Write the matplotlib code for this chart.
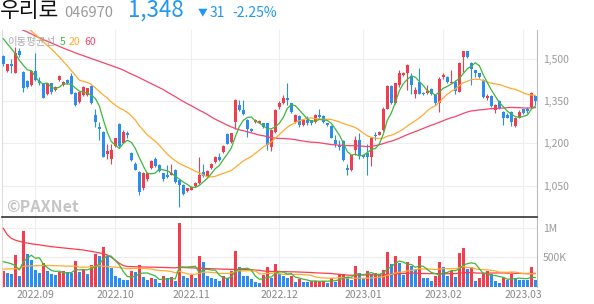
import numpy as np
import pandas as pd
import matplotlib
matplotlib.use('Agg')
import matplotlib.pyplot as plt

plt.rcParams['font.family'] = ['Noto Sans CJK KR', 'DejaVu Sans']

# daily candles, 2022-08-22 .. 2023-03-07 (won)
opens = [1508, 1456, 1482, 1449, 1527, 1453, 1421, 1406, 1456, 1421,
         1412, 1374, 1412, 1390, 1423, 1406, 1423, 1438, 1379, 1347,
         1370, 1370, 1402, 1300, 1258, 1241, 1161, 1146, 1190, 1268,
         1202, 1235, 1164, 1126, 1099, 1040, 1072, 1114, 1146, 1123,
         1093, 1089, 1089, 1105, 1069, 1052, 1032, 1036, 1048, 1058,
         1099, 1084, 1111, 1134, 1152, 1170, 1232, 1205, 1276, 1335,
         1317, 1282, 1252, 1276, 1272, 1270, 1270, 1187, 1241, 1329,
         1341, 1359, 1341, 1276, 1296, 1264, 1282, 1282, 1276, 1300,
         1296, 1270, 1261, 1213, 1193, 1209, 1113, 1105, 1176, 1213,
         1158, 1164, 1150, 1231, 1231, 1246, 1323, 1402, 1341, 1406,
         1441, 1447, 1438, 1374, 1418, 1379, 1379, 1392, 1370, 1343,
         1435, 1435, 1414, 1418, 1382, 1504, 1526, 1485, 1459, 1447,
         1423, 1359, 1367, 1317, 1349, 1311, 1300, 1311, 1262, 1291,
         1320, 1323, 1329, 1367]
highs = [1512, 1482, 1500, 1541, 1539, 1455, 1424, 1459, 1520, 1435,
         1414, 1414, 1414, 1403, 1441, 1421, 1429, 1447, 1382, 1385,
         1402, 1397, 1405, 1320, 1276, 1244, 1199, 1199, 1220, 1270,
         1246, 1244, 1170, 1134, 1101, 1099, 1099, 1140, 1150, 1127,
         1095, 1123, 1126, 1108, 1072, 1055, 1043, 1049, 1063, 1152,
         1126, 1104, 1131, 1155, 1164, 1193, 1237, 1238, 1355, 1353,
         1353, 1285, 1255, 1285, 1282, 1273, 1273, 1249, 1320, 1350,
         1370, 1412, 1344, 1303, 1299, 1287, 1296, 1284, 1303, 1320,
         1299, 1273, 1263, 1229, 1211, 1212, 1128, 1160, 1225, 1237,
         1160, 1199, 1223, 1241, 1244, 1329, 1405, 1405, 1414, 1461,
         1452, 1479, 1447, 1400, 1465, 1382, 1406, 1395, 1372, 1435,
         1449, 1438, 1461, 1423, 1488, 1528, 1528, 1488, 1461, 1450,
         1426, 1376, 1370, 1338, 1352, 1314, 1308, 1314, 1294, 1317,
         1323, 1329, 1382, 1370]
lows = [1473, 1452, 1449, 1447, 1506, 1382, 1394, 1402, 1421, 1406,
        1359, 1370, 1374, 1385, 1420, 1402, 1409, 1373, 1333, 1344,
        1367, 1367, 1338, 1258, 1211, 1150, 1146, 1126, 1187, 1187,
        1200, 1217, 1138, 1105, 1016, 1034, 1068, 1110, 1115, 1099,
        1067, 1078, 1087, 1061, 975, 1016, 1029, 1034, 1045, 1055,
        1081, 1081, 1108, 1131, 1136, 1167, 1196, 1202, 1249, 1313,
        1300, 1223, 1240, 1273, 1270, 1253, 1176, 1173, 1238, 1323,
        1338, 1335, 1308, 1273, 1258, 1261, 1264, 1264, 1273, 1291,
        1273, 1260, 1218, 1187, 1176, 1137, 1087, 1102, 1158, 1146,
        1148, 1087, 1119, 1211, 1228, 1244, 1320, 1340, 1338, 1400,
        1438, 1388, 1376, 1362, 1374, 1371, 1376, 1370, 1335, 1311,
        1429, 1412, 1412, 1376, 1380, 1453, 1501, 1406, 1435, 1432,
        1362, 1353, 1329, 1308, 1323, 1264, 1288, 1261, 1256, 1288,
        1303, 1308, 1326, 1335]
closes = [1482, 1480, 1475, 1520, 1512, 1394, 1400, 1456, 1423, 1412,
          1362, 1412, 1382, 1400, 1438, 1418, 1412, 1376, 1335, 1382,
          1400, 1394, 1341, 1276, 1252, 1152, 1173, 1176, 1217, 1190,
          1241, 1229, 1140, 1107, 1028, 1093, 1095, 1138, 1119, 1101,
          1075, 1081, 1095, 1064, 1052, 1020, 1040, 1046, 1060, 1087,
          1084, 1101, 1128, 1152, 1140, 1190, 1199, 1235, 1353, 1317,
          1303, 1249, 1244, 1282, 1279, 1256, 1193, 1246, 1317, 1343,
          1359, 1353, 1311, 1300, 1264, 1284, 1272, 1272, 1300, 1294,
          1276, 1263, 1220, 1199, 1187, 1140, 1107, 1158, 1213, 1158,
          1152, 1152, 1217, 1225, 1241, 1323, 1402, 1343, 1412, 1449,
          1449, 1476, 1406, 1390, 1376, 1374, 1386, 1374, 1343, 1429,
          1442, 1418, 1418, 1386, 1485, 1526, 1504, 1462, 1447, 1435,
          1364, 1367, 1331, 1335, 1326, 1288, 1291, 1276, 1291, 1311,
          1306, 1315, 1379, 1348]
# volume, thousand shares
volumes = [268, 229, 212, 538, 184, 944, 555, 454, 285, 229,
           398, 268, 212, 201, 257, 262, 246, 240, 437, 257,
           285, 218, 370, 550, 527, 674, 527, 313, 184, 156,
           116, 110, 268, 250, 370, 172, 116, 144, 127, 71,
           189, 144, 172, 105, 1073, 184, 144, 201, 144, 527,
           426, 184, 144, 140, 105, 184, 144, 268, 612, 330,
           184, 184, 127, 88, 71, 201, 330, 144, 386, 212,
           184, 156, 184, 88, 133, 88, 88, 95, 99, 103,
           106, 71, 144, 88, 212, 218, 172, 116, 358, 229,
           144, 268, 212, 229, 201, 285, 595, 386, 522, 398,
           201, 415, 358, 285, 522, 156, 156, 99, 189, 415,
           330, 184, 268, 172, 567, 651, 302, 341, 105, 156,
           229, 268, 212, 99, 71, 156, 116, 212, 144, 116,
           116, 110, 330, 116]

# moving-average values before enough sessions are on screen
ma5_lead = [1570, 1552, 1535, 1518]
ma20_lead = [1680, 1670, 1660, 1648, 1636, 1622, 1610, 1598, 1585, 1572,
             1559, 1546, 1534, 1520, 1505, 1490, 1474, 1457, 1440]
ma60_lead = [1630, 1624, 1618, 1612, 1606, 1600, 1594, 1587, 1580, 1573,
             1567, 1561, 1555, 1549, 1543, 1537, 1531, 1526, 1520, 1515,
             1510, 1505, 1500, 1495, 1490, 1485, 1480, 1475, 1470, 1465,
             1459, 1452, 1445, 1439, 1432, 1425, 1418, 1411, 1404, 1397,
             1390, 1381, 1373, 1365, 1356, 1348, 1340, 1333, 1325, 1317,
             1310, 1302, 1293, 1285, 1278, 1271, 1264, 1258, 1252]
vma5_lead = [426, 410, 390, 360]
vma20_lead = [300, 302, 305, 310, 312, 345, 352, 356, 358, 360,
              362, 362, 360, 358, 356, 354, 352, 350, 352]
vma60_lead = [990, 880, 820, 790, 770, 752, 740, 728, 718, 710,
              700, 690, 680, 673, 666, 659, 652, 645, 638, 630,
              623, 612, 600, 588, 575, 560, 540, 500, 450, 400,
              360, 345, 342, 340, 338, 336, 335, 334, 332, 330,
              328, 326, 324, 322, 330, 328, 325, 322, 318, 316,
              314, 311, 308, 305, 302, 300, 298, 296, 296]

month_idx = [8, 28, 47, 69, 90, 110, 130]
month_labels = ['2022.09', '2022.10', '2022.11', '2022.12', '2023.01', '2023.02', '2023.03']

RED = '#f23d4f'
BLUE = '#2b8df0'
GREEN = '#3cb83c'
ORANGE = '#ffab2e'
PINK = '#f5456b'
GRID = '#eeeeee'


def moving(values, n, lead):
    s = pd.Series(values, dtype=float).rolling(n).mean()
    s.iloc[:len(lead)] = lead
    return s.values


o = np.array(opens, float)
c = np.array(closes, float)
x = np.arange(len(c))
vol = np.array(volumes, float) * 1000

fig = plt.figure(figsize=(5.94, 3.04), dpi=100)
ax = fig.add_axes([2 / 594, 1 - 216.7 / 304, 535.3 / 594, 186.7 / 304])
axv = fig.add_axes([2 / 594, 1 - 286.9 / 304, 535.3 / 594, 70.2 / 304])

# candles
ccol = np.where(c >= o, RED, BLUE)
ax.vlines(x, lows, highs, colors=ccol, lw=0.8, zorder=2)
body = np.maximum(np.abs(c - o), 2.5)
ax.bar(x, body, bottom=np.minimum(o, c), width=0.72, color=ccol, zorder=3)

ax.plot(x, moving(closes, 60, ma60_lead), color=PINK, lw=0.9, zorder=4)
ax.plot(x, moving(closes, 20, ma20_lead), color=ORANGE, lw=0.9, zorder=4)
ax.plot(x, moving(closes, 5, ma5_lead), color=GREEN, lw=0.9, zorder=4)

ax.set_xlim(-0.33, 133.5)
ax.set_ylim(940, 1601)
ax.set_yticks([1050, 1200, 1350, 1500])
ax.set_yticklabels(['{:,}'.format(v) for v in [1050, 1200, 1350, 1500]])
ax.yaxis.tick_right()
ax.tick_params(axis='y', length=0, pad=4, labelsize=7.5, labelcolor='#999999')
ax.set_xticks(month_idx)
ax.tick_params(axis='x', length=0, labelbottom=False)
ax.grid(color=GRID, lw=0.8, zorder=0)
ax.spines['top'].set_visible(False)
ax.spines['bottom'].set_visible(False)
ax.spines['left'].set_color('#dddddd')
ax.spines['right'].set_color('#bbbbbb')

ax.text(0.009, 0.937, '이동평균선', transform=ax.transAxes, fontsize=7.5,
        color='#aaaaaa', va='center', zorder=6)
ax.text(0.108, 0.937, '5', transform=ax.transAxes, fontsize=7.5, color=GREEN, va='center', zorder=6)
ax.text(0.125, 0.937, '20', transform=ax.transAxes, fontsize=7.5, color=ORANGE, va='center', zorder=6)
ax.text(0.153, 0.937, '60', transform=ax.transAxes, fontsize=7.5, color=PINK, va='center', zorder=6)
ax.text(0.007, 0.052, '©PAXNet', transform=ax.transAxes, fontsize=11.5, fontweight='bold',
        color='#c4c4c4', va='center', zorder=6)

# volume
vcol = [RED] + [RED if vol[i] > vol[i - 1] else BLUE for i in range(1, len(vol))]
axv.bar(x, vol, width=0.75, color=vcol, zorder=2)
axv.plot(x, moving(vol, 60, np.array(vma60_lead) * 1000), color='#ff3b4a', lw=0.9, zorder=3)
axv.plot(x, moving(vol, 20, np.array(vma20_lead) * 1000), color=ORANGE, lw=0.9, zorder=3)
axv.plot(x, moving(vol, 5, np.array(vma5_lead) * 1000), color=GREEN, lw=0.9, zorder=3)

axv.set_xlim(-0.33, 133.5)
axv.set_ylim(0, 1186000)
axv.set_yticks([500000, 1000000])
axv.set_yticklabels(['500K', '1M'])
axv.yaxis.tick_right()
axv.tick_params(axis='y', length=0, pad=4, labelsize=7.5, labelcolor='#999999')
axv.set_xticks(month_idx)
axv.set_xticklabels(month_labels)
axv.tick_params(axis='x', length=0, pad=2.5, labelsize=7.5, labelcolor='#888888')
axv.grid(color=GRID, lw=0.8, zorder=0)
axv.spines['top'].set_color('#333333')
axv.spines['top'].set_linewidth(1.2)
axv.spines['bottom'].set_visible(False)
axv.spines['left'].set_color('#dddddd')
axv.spines['right'].set_color('#bbbbbb')

# header
fig.text(0.0, 0.944, '우리로', fontsize=15.5, fontweight='medium', color='#111111', va='baseline')
fig.text(0.109, 0.944, '046970', fontsize=10.5, color='#999999', va='baseline')
fig.text(0.2155, 0.944, '1,348', fontsize=16, color='#2196f3', va='baseline')
fig.text(0.333, 0.948, '▼', fontsize=7, color='#2196f3', va='baseline')
fig.text(0.3535, 0.944, '31', fontsize=10, color='#2196f3', va='baseline')
fig.text(0.392, 0.944, '-2.25%', fontsize=10, color='#2196f3', va='baseline')

fig.savefig('out.png', dpi=100, facecolor='white')
